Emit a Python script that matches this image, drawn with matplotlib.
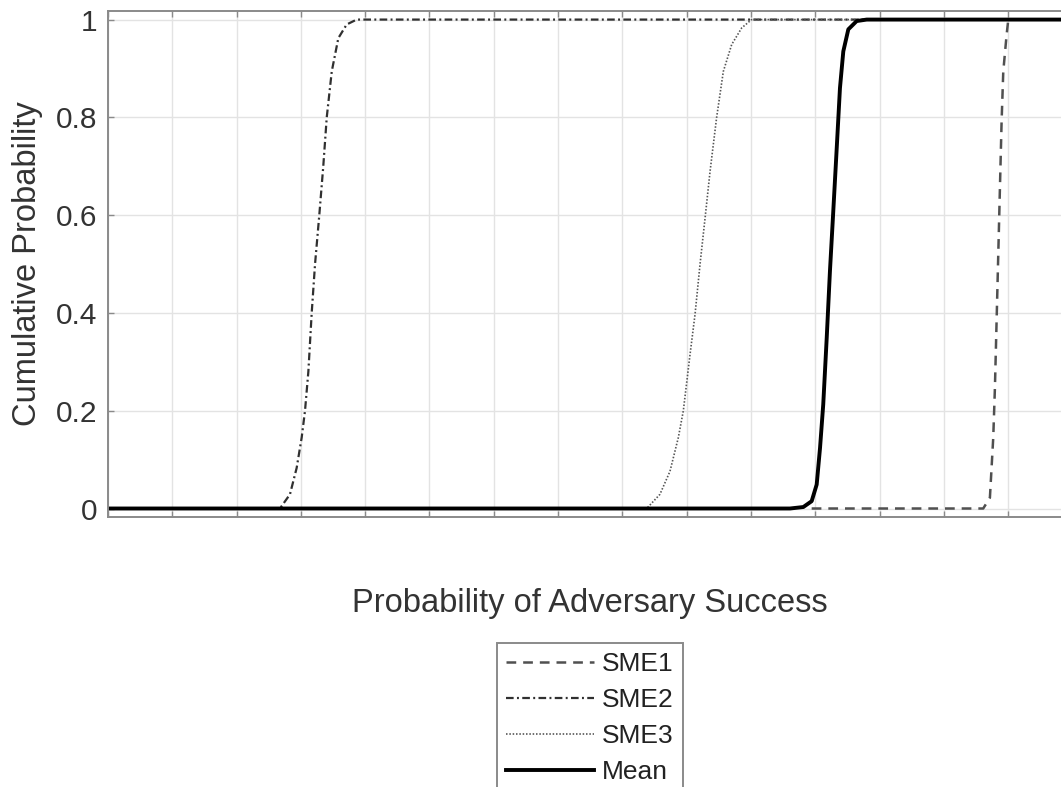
import numpy as np
import matplotlib
matplotlib.use('Agg')
import matplotlib.pyplot as plt

# 读取的曲线数据 (x: probability of adversary success, y: cumulative probability)
sme1_x = [0.5472, 0.6806, 0.6858, 0.6884, 0.6897, 0.6910, 0.6923, 0.6936, 0.6949, 0.6962, 0.6988, 0.7001, 0.75]
sme1_y = [0.0, 0.0, 0.022, 0.145, 0.247, 0.383, 0.519, 0.656, 0.792, 0.894, 0.969, 1.0, 1.0]

sme2_x = [0.0, 0.1337, 0.1415, 0.1467, 0.1506, 0.1532, 0.1558, 0.1584, 0.1610, 0.1643, 0.1674, 0.1701,
          0.1740, 0.1791, 0.1856, 0.1934, 0.75]
sme2_y = [0.0, 0.0, 0.029, 0.083, 0.145, 0.2, 0.28, 0.4, 0.5, 0.6, 0.7, 0.8, 0.894, 0.962, 0.99, 1.0, 1.0]

sme3_x = [0.0, 0.4189, 0.4292, 0.4370, 0.4435, 0.4474, 0.4526, 0.4565, 0.4604, 0.4643, 0.4682, 0.4733,
          0.4785, 0.4850, 0.4928, 0.5005, 0.75]
sme3_y = [0.0, 0.0, 0.029, 0.076, 0.145, 0.2, 0.315, 0.397, 0.5, 0.594, 0.69, 0.8, 0.894, 0.949, 0.983, 1.0, 1.0]

mean_x = [0.0, 0.5303, 0.5407, 0.5472, 0.5511, 0.5537, 0.5562, 0.5589, 0.5614, 0.5640, 0.5667, 0.5692,
          0.5718, 0.5757, 0.5822, 0.5900, 0.75]
mean_y = [0.0, 0.0, 0.003, 0.015, 0.049, 0.124, 0.213, 0.349, 0.485, 0.608, 0.738, 0.86, 0.935, 0.98,
          0.997, 1.0, 1.0]

labels = ['SME1', 'SME2', 'SME3', 'Mean']
y_ticks = [0, 0.2, 0.4, 0.6, 0.8, 1]
y_tick_labels = ['0', '0.2', '0.4', '0.6', '0.8', '1']

plt.rcParams['font.family'] = ['Liberation Sans', 'DejaVu Sans']
plt.rcParams['lines.scale_dashes'] = False

fig = plt.figure(figsize=(10.61, 7.87), dpi=100)
# 坐标轴故意超出右边界一点 (原图右侧被裁掉)
ax = fig.add_axes([0.1018, 0.343, 0.909, 0.643])

ax.plot(sme1_x, sme1_y, color='#505050', lw=1.8, linestyle=(0, (7, 5)), label=labels[0])
ax.plot(sme2_x, sme2_y, color='#303030', lw=1.6, linestyle=(0, (5.5, 2.4, 1.4, 2.4)), label=labels[1])
ax.plot(sme3_x, sme3_y, color='#555555', lw=1.2, linestyle=(0, (1.1, 1.3)), label=labels[2])
ax.plot(mean_x, mean_y, color='black', lw=2.8, label=labels[3])

ax.set_xlim(0, 0.75)
ax.set_ylim(-0.0175, 1.0175)
ax.set_xticks(np.arange(0, 0.7501, 0.05))
ax.set_xticklabels([])
ax.set_yticks(y_ticks)
ax.set_yticklabels(y_tick_labels)

ax.grid(True, color='#e3e3e3', lw=1.0)
ax.set_axisbelow(True)
for s in ax.spines.values():
    s.set_color('#8a8a8a')
    s.set_linewidth(1.4)
ax.tick_params(direction='in', length=4, width=1, colors='#8a8a8a', top=True, right=True,
               labelsize=21.5, labelcolor='#333333', pad=8)

ax.set_xlabel('Probability of Adversary Success', fontsize=23.5, color='#333333')
ax.xaxis.set_label_coords(0.5, -0.17)
ax.xaxis.label.set_va('center')
ax.set_ylabel('Cumulative Probability', fontsize=23.5, color='#333333')
ax.yaxis.set_label_coords(-0.083, 0.5)
ax.yaxis.label.set_va('center')

leg = ax.legend(loc='upper center', bbox_to_anchor=(0.5, -0.249), fontsize=19, frameon=True,
                fancybox=False, framealpha=1, edgecolor='#8a8a8a', handlelength=3.33,
                handletextpad=0.3, labelspacing=0.45, borderpad=0.35, borderaxespad=0)
leg.get_frame().set_linewidth(1.4)
for t in leg.get_texts():
    t.set_color('#222222')

fig.savefig('out.png', dpi=100)
